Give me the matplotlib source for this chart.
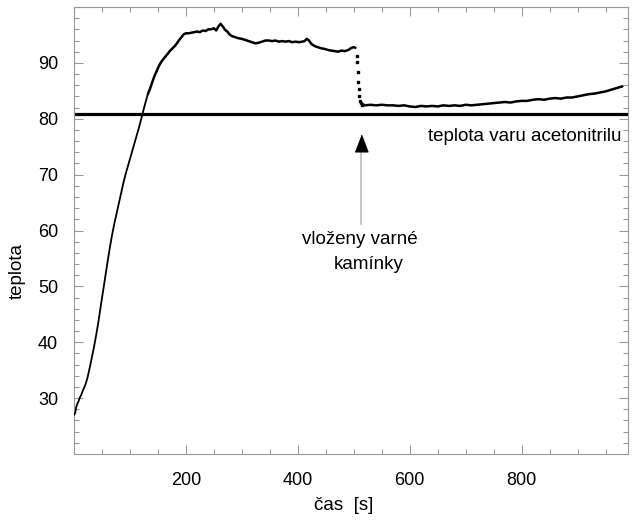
import matplotlib.pyplot as plt
from matplotlib.ticker import MultipleLocator

plt.rcParams['font.family'] = ['Liberation Sans', 'DejaVu Sans']

# heating curve before the boiling stones were added
t_rise = [0, 2, 4, 6, 8, 10, 13, 16, 20, 24, 28, 32, 36, 40, 44, 48, 52, 56, 60,
          64, 68, 72, 76, 80, 84, 88, 92, 96, 100, 104, 108, 112, 116, 120, 124,
          128, 132]
temp_rise = [27.0, 27.3, 28.4, 29.0, 29.4, 30.0, 30.6, 31.4, 32.3, 33.6, 35.4,
             37.3, 39.3, 41.5, 43.9, 46.6, 49.2, 51.8, 54.4, 56.9, 59.2, 61.2,
             63.0, 64.8, 66.6, 68.4, 70.0, 71.4, 72.8, 74.2, 75.6, 77.0, 78.4,
             79.9, 81.5, 83.0, 84.4]
t_heat = [132, 136, 140, 144, 148, 152, 156, 160, 164, 168, 172, 176, 180,
          184, 188, 192, 196, 200, 205, 210, 215, 220, 225, 230, 235, 240, 245,
          250, 254, 258, 262, 266, 270, 274, 278, 282, 288, 294, 300, 306, 312,
          318, 324, 330, 336, 342, 348, 354, 360, 366, 372, 378, 384, 390, 396,
          402, 408, 412, 416, 420, 424, 430, 436, 442, 448, 454, 460, 466, 472,
          478, 484, 490, 496, 500, 503]
temp_heat = [84.4, 85.4, 86.6, 87.7, 88.6, 89.5, 90.2, 90.7,
             91.2, 91.7, 92.2, 92.6, 93.0, 93.5, 94.1, 94.6, 95.1, 95.3, 95.3,
             95.4, 95.5, 95.6, 95.5, 95.8, 95.7, 96.0, 96.0, 96.2, 95.8, 96.5,
             97.0, 96.5, 95.9, 95.6, 95.1, 94.8, 94.6, 94.4, 94.3, 94.1, 93.9,
             93.7, 93.5, 93.6, 93.8, 94.0, 94.0, 93.9, 94.0, 93.8, 93.9, 93.8,
             93.9, 93.7, 93.8, 93.7, 93.8, 93.9, 94.3, 94.0, 93.4, 93.0, 92.8,
             92.6, 92.5, 92.3, 92.2, 92.1, 92.0, 92.2, 92.1, 92.3, 92.7, 92.8,
             92.7]

# sudden drop after the stones went in
t_drop = [505, 506, 507, 508, 509, 510, 511, 512, 514]
temp_drop = [91.3, 90.1, 88.3, 86.5, 85.3, 84.1, 83.2, 82.8, 82.5]

# boiling with stones
t_boil = [516, 520, 530, 540, 550, 560, 570, 580, 590, 600, 610, 620, 630, 640,
          650, 660, 670, 680, 690, 700, 710, 720, 730, 740, 750, 760, 770, 780,
          790, 800, 810, 820, 830, 840, 850, 860, 870, 880, 890, 900, 910, 920,
          930, 940, 950, 960, 970, 980]
temp_boil = [82.6, 82.4, 82.5, 82.4, 82.5, 82.4, 82.4, 82.3, 82.4, 82.2, 82.1,
             82.3, 82.2, 82.3, 82.2, 82.4, 82.3, 82.4, 82.3, 82.5, 82.4, 82.5,
             82.6, 82.7, 82.8, 82.9, 83.0, 82.9, 83.1, 83.2, 83.2, 83.4, 83.5,
             83.4, 83.6, 83.7, 83.6, 83.8, 83.8, 84.0, 84.2, 84.4, 84.5, 84.7,
             84.9, 85.2, 85.5, 85.8]

bp_acetonitrile = 80.8
stones_time = 513.7

fig = plt.figure(figsize=(6.32, 5.22), dpi=100)
ax = fig.add_axes([74/632, 68/522, 554/632, 447/522])

line_kw = dict(color='black', zorder=3, solid_capstyle='round', solid_joinstyle='round')
ax.axhline(bp_acetonitrile, color='black', lw=2.3, zorder=2)
ax.plot(t_rise, temp_rise, lw=1.3, **line_kw)
ax.plot(t_heat, temp_heat, lw=1.8, **line_kw)
ax.plot(t_drop, temp_drop, ls='none', marker='s', ms=1.8, color='black', zorder=3)
ax.plot(t_boil, temp_boil, lw=1.8, **line_kw)

# arrow: grey shaft, black head
ax.plot([stones_time, stones_time], [61.1, 75], color='#bbbbbb', lw=1.2, zorder=2)
ax.plot([stones_time], [75.65], ls='none', color='black',
        marker=[(-6.5, -8.5), (6.5, -8.5), (0, 8.5)], ms=12, zorder=3)

ax.text(978, 76.9, 'teplota varu acetonitrilu', ha='right', va='center', fontsize=13.5)
ax.text(510.7, 58.4, 'vloženy varné', ha='center', va='center', fontsize=13.5)
ax.text(526.8, 53.9, 'kamínky', ha='center', va='center', fontsize=13.5)

ax.set_xlim(0, 990)
ax.set_ylim(20, 100)
ax.set_xticks([200, 400, 600, 800])
ax.set_yticks([30, 40, 50, 60, 70, 80, 90])
ax.xaxis.set_minor_locator(MultipleLocator(50))
ax.yaxis.set_minor_locator(MultipleLocator(2))
ax.tick_params(which='both', direction='in', top=True, right=True, color='#999999',
               labelsize=13)
ax.tick_params(which='major', length=6.5, width=0.8)
ax.tick_params(which='minor', length=3.6, width=0.8)
ax.tick_params(axis='y', pad=11.5)
ax.tick_params(axis='x', pad=13)
for sp in ax.spines.values():
    sp.set_color('#999999')
    sp.set_linewidth(0.8)

ax.set_xlabel('čas  [s]', fontsize=13.5)
ax.set_ylabel('teplota', fontsize=13.5)
ax.xaxis.set_label_coords(0.487, -0.116)
ax.xaxis.label.set_verticalalignment('center')
ax.yaxis.set_label_coords(-0.103, 0.41)
ax.yaxis.label.set_verticalalignment('center')

fig.savefig('out.png', dpi=100)
